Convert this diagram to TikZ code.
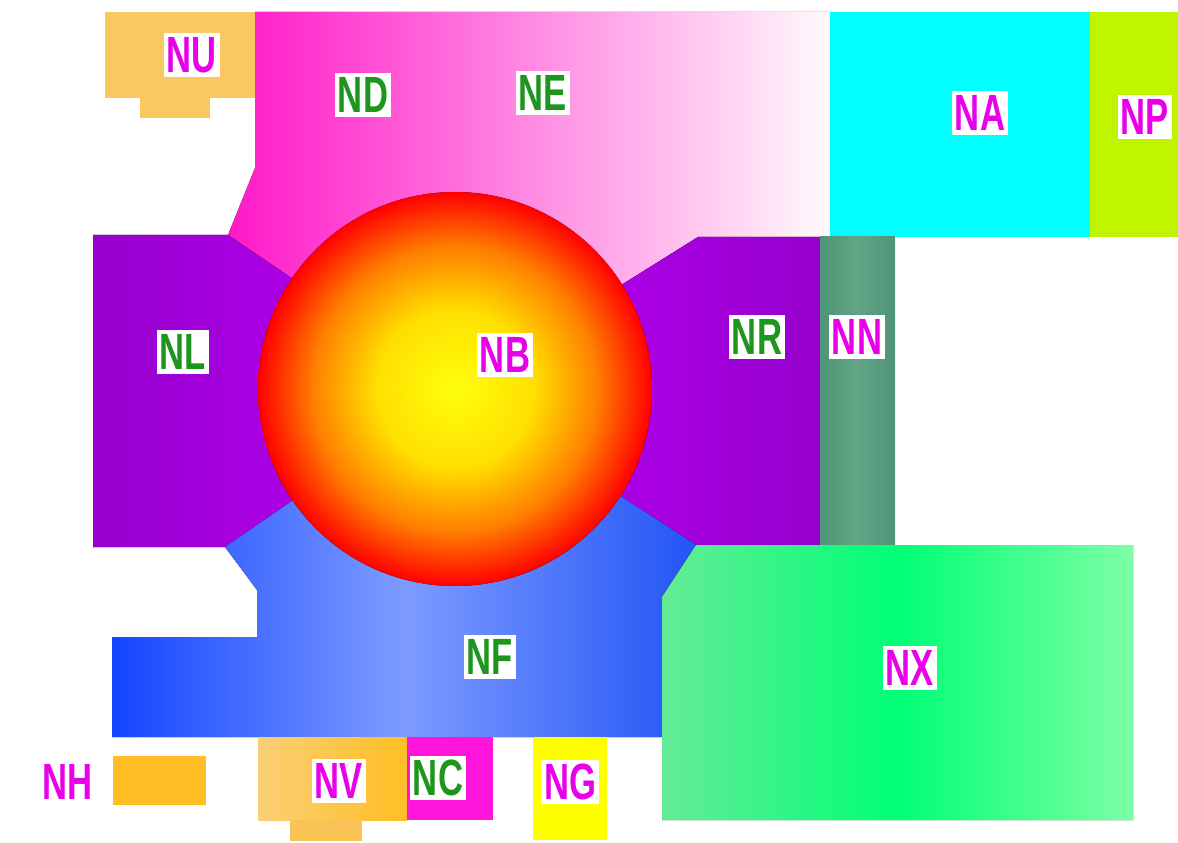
\documentclass[tikz,border=0pt]{standalone}
\usepackage{fontspec}
\newfontfamily\lblfont[FakeStretch=0.68]{Liberation Sans}
\usetikzlibrary{shadings}
\definecolor{labmag}{RGB}{232,0,232}
\definecolor{labgrn}{RGB}{30,150,30}
\definecolor{nuorange}{RGB}{249,200,95}
\definecolor{nhorange}{RGB}{255,190,35}
\definecolor{nvorange}{RGB}{250,195,85}
\definecolor{ncmag}{RGB}{255,20,220}
\definecolor{ngyel}{RGB}{255,255,0}
\definecolor{nacyan}{RGB}{0,255,255}
\definecolor{nplime}{RGB}{192,245,0}
\definecolor{pinkdeep}{RGB}{255,25,200}
\definecolor{pinkpale}{RGB}{255,250,252}
\definecolor{purpdark}{RGB}{150,0,205}
\definecolor{purplite}{RGB}{190,0,250}
\definecolor{teal1}{RGB}{78,148,118}
\definecolor{teal2}{RGB}{98,165,135}
\definecolor{blue1}{RGB}{20,70,255}
\definecolor{blue2}{RGB}{125,155,255}
\definecolor{blue3}{RGB}{35,85,245}
\definecolor{green1}{RGB}{100,235,150}
\definecolor{green2}{RGB}{0,255,118}
\definecolor{green3}{RGB}{125,255,165}
\pgfdeclareradialshading{ballshade}{\pgfpoint{0bp}{0bp}}{%
  color(0bp)=(yellow!95!white); color(10bp)=(yellow!75!orange);
  color(18bp)=(orange); color(25bp)=(red); color(50bp)=(red)}
\tikzset{
  lbl/.style    = {fill=white, inner xsep=1.5pt, inner ysep=2.5pt,
                   font=\lblfont\bfseries\fontsize{29}{31}\selectfont},
  maglbl/.style = {lbl, text=labmag},
  grnlbl/.style = {lbl, text=labgrn}
}

\begin{document}
\begin{tikzpicture}[x=0.2mm, y=-0.2mm]
\useasboundingbox (0,0) rectangle (1178,843);

% ---- top band ----
\fill[nuorange] (105,12) rectangle (255,98);
\fill[nuorange] (140,98) rectangle (210,118);
\fill[left color=pinkdeep, right color=pinkpale]
  (255,12) -- (830,12) -- (830,237) -- (698,237) -- (455,389)
  -- (228,235) -- (255,168) -- cycle;
\fill[nacyan] (830,12) rectangle (1090,237);
\fill[nplime] (1090,12) rectangle (1178,237);

% ---- arms round the ball ----
\fill[left color=purpdark, right color=purplite]
  (93,235) -- (228,235) -- (455,389) -- (225,547) -- (93,547) -- cycle;
\fill[left color=purplite, right color=purpdark]
  (698,237) -- (820,237) -- (820,545) -- (696,545) -- (455,389) -- cycle;
\fill[left color=teal1, right color=teal1, middle color=teal2]
  (820,237) rectangle (895,545);
\fill[left color=blue1, right color=blue3, middle color=blue2]
  (225,547) -- (455,389) -- (696,545) -- (662,597) -- (662,737)
  -- (112,737) -- (112,637) -- (257,637) -- (257,590) -- cycle;
\fill[left color=green1, right color=green3, middle color=green2]
  (696,545) -- (1133,545) -- (1133,820) -- (662,820) -- (662,597) -- cycle;

% ---- the ball ----
\fill[shading=ballshade] (455,389) circle (197);

% ---- bottom row ----
\fill[nhorange] (113,756) rectangle (206,805);
\fill[left color=nvorange!80!white, right color=nhorange] (258,737) rectangle (407,820);
\fill[nvorange] (290,820) rectangle (362,841);
\fill[ncmag] (407,737) rectangle (493,820);
\fill[ngyel] (533,737) rectangle (607,840);

% ---- labels ----
\node[maglbl] (nu) at (192,55)  {NU};
\node[grnlbl] (nd) at (363,95)  {ND};
\node[grnlbl] (ne) at (543,93)  {NE};
\node[maglbl] (na) at (980,113) {NA};
\node[maglbl] (np) at (1145,117) {NP};
\node[grnlbl] (nl) at (183,352) {NL};
\node[maglbl] (nb) at (505,355) {NB};
\node[grnlbl] (nr) at (757,337) {NR};
\node[maglbl] (nn) at (857,337) {NN};
\node[grnlbl] (nf) at (490,657) {NF};
\node[maglbl] (nx) at (910,668) {NX};
\node[maglbl, fill=none] (nh) at (68,782) {NH};
\node[maglbl] (nv) at (339,781) {NV};
\node[grnlbl] (nc) at (438,778) {NC};
\node[maglbl] (ng) at (570,782) {NG};
\end{tikzpicture}
\end{document}
